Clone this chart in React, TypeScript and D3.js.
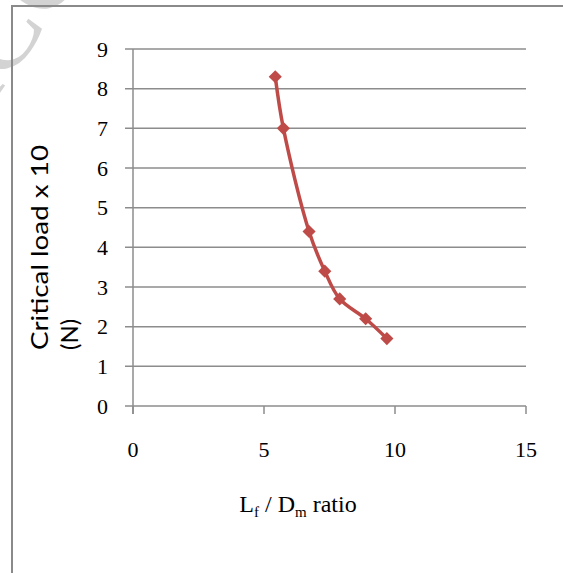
import React from "react";
import * as d3 from "d3";

// Lf/Dm ratio vs critical load (x10 N)
const ratios = [5.43, 5.74, 6.72, 7.32, 7.89, 8.88, 9.69];
const loads = [8.3, 7.0, 4.4, 3.4, 2.7, 2.2, 1.7];
const xTicks = [0, 5, 10, 15];
const yTicks = [0, 1, 2, 3, 4, 5, 6, 7, 8, 9];

const W = 563;
const H = 573;
const red = "#BE4B48";
const grid = "#8C8C8C";

export default function App() {
  const x = d3.scaleLinear().domain([0, 15]).range([133, 526]);
  const y = d3.scaleLinear().domain([0, 9]).range([406, 49]);

  const pts: [number, number][] = ratios.map((r, i) => [x(r), y(loads[i])]);
  const line = d3.line().curve(d3.curveCatmullRom.alpha(0.5))(pts) ?? "";
  const diamond = d3.symbol().type(d3.symbolDiamond2).size(110)() ?? "";

  return (
    <svg
      width={W}
      height={H}
      style={{ position: "absolute", left: 0, top: 0, background: "#fff" }}
    >
      {/* watermark, mostly outside the frame */}
      <g opacity={0.55}>
        <text
          transform="translate(-40,150) rotate(-55)"
          fontFamily="Liberation Serif"
          fontSize={110}
          fill="#b0b0b0"
        >
          ACCEPTED
        </text>
      </g>

      {/* frame */}
      <path d={`M12,${H} V6 H${W}`} fill="none" stroke="#8A8A8A" strokeWidth={2} />

      {/* gridlines */}
      {yTicks.map((t) => (
        <line
          key={t}
          x1={125}
          x2={526}
          y1={y(t)}
          y2={y(t)}
          stroke={grid}
          strokeWidth={1.5}
        />
      ))}
      {/* y axis */}
      <line x1={133} x2={133} y1={y(9)} y2={y(0) + 8} stroke={grid} strokeWidth={1.5} />
      {xTicks.map((t) => (
        <line key={t} x1={x(t)} x2={x(t)} y1={y(0)} y2={y(0) + 8} stroke={grid} strokeWidth={1.5} />
      ))}

      {/* tick labels */}
      {yTicks.map((t) => (
        <text
          key={t}
          x={108}
          y={y(t)}
          dy="0.35em"
          textAnchor="end"
          fontFamily="Liberation Serif"
          fontSize={22}
          fill="#000"
        >
          {t}
        </text>
      ))}
      {xTicks.map((t) => (
        <text
          key={t}
          x={x(t)}
          y={457}
          textAnchor="middle"
          fontFamily="Liberation Serif"
          fontSize={22}
          fill="#000"
        >
          {t}
        </text>
      ))}

      {/* axis titles */}
      <text x={298} y={512} textAnchor="middle" fontFamily="Liberation Serif" fontSize={24}>
        L<tspan fontSize={15} dy={5}>f</tspan>
        <tspan dy={-5}> / D</tspan>
        <tspan fontSize={15} dy={5}>m</tspan>
        <tspan dy={-5}> ratio</tspan>
      </text>
      <g transform="translate(48,350) rotate(-90)" fontFamily="Lato" fontSize={24}>
        <text x={0} y={0} textLength={205} lengthAdjust="spacingAndGlyphs">
          Critical load x 10
        </text>
        <text x={0} y={30}>(N)</text>
      </g>

      {/* series */}
      <path d={line} fill="none" stroke={red} strokeWidth={3.5} strokeLinejoin="round" />
      {pts.map(([px, py], i) => (
        <path key={i} d={diamond} transform={`translate(${px},${py})`} fill={red} />
      ))}
    </svg>
  );
}
